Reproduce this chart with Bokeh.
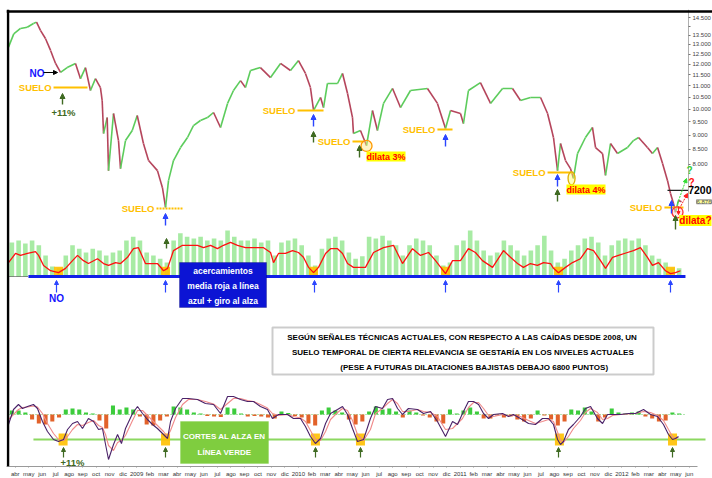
import math
from bokeh.plotting import figure
from bokeh.models import (Range1d, LinearScale, FixedTicker, Span, Label, Arrow,
                          NormalHead, BoxAnnotation, ColumnDataSource)
from bokeh.embed import file_html
from bokeh.resources import INLINE

# ------------------------------------------------------------------ data
months = ["abr", "may", "jun", "jul", "ago", "sep", "oct", "nov", "dic",
          "2009", "feb", "mar", "abr", "may", "jun", "jul", "ago", "sep", "oct", "nov", "dic",
          "2010", "feb", "mar", "abr", "may", "jun", "jul", "ago", "sep", "oct", "nov", "dic",
          "2011", "feb", "mar", "abr", "may", "jun", "jul", "ago", "sep", "oct", "nov", "dic",
          "2012", "feb", "mar", "abr", "may", "jun"]

# time in months since 1 Apr 2008
price_t = [0.0, 0.39, 0.89, 1.39, 1.85, 2.08, 2.37, 2.74, 3.12, 3.49,
           3.86, 4.35, 4.97, 5.34, 5.71, 6.08, 6.45, 6.82, 6.95, 7.05,
           7.32, 7.42, 7.79, 8.16, 8.31, 8.68, 9.18, 9.55, 10.01, 10.39,
           11.05, 11.42, 11.65, 11.87, 12.24, 12.76, 13.28, 13.72, 14.24, 14.76,
           15.21, 15.73, 16.25, 16.69, 17.21, 17.58, 17.95, 18.69, 19.44, 20.18,
           20.92, 21.51, 22.03, 22.40, 22.63, 23.15, 23.37, 23.66, 24.41, 24.78,
           25.15, 25.52, 25.59, 26.11, 26.56, 27.00, 27.37, 27.82, 28.49, 29.08,
           29.82, 31.08, 31.82, 32.42, 32.79, 33.53, 33.75, 34.12, 35.01, 35.76,
           36.65, 37.39, 37.98, 38.72, 39.47, 39.99, 40.43, 40.73, 40.95, 41.32,
           41.69, 41.91, 42.21, 42.80, 43.32, 43.55, 44.07, 44.29, 44.66, 45.18,
           45.92, 46.36, 46.74, 47.40, 47.77, 48.15, 48.52, 48.89, 49.11, 49.33,
           49.48, 49.70, 49.93]
price = [12860, 13570, 13870, 13940, 14150, 14230, 13760, 13320, 12690, 12040,
         11610, 11840, 12040, 11320, 11840, 10790, 11320, 10920, 10360, 9065,
         9670, 7800, 9830, 8810, 7865, 8810, 9175, 9750, 8705, 8125,
         7800, 7280, 6720, 7490, 8125, 8565, 8920, 9360, 9555, 9670,
         9870, 9290, 10240, 10790, 11230, 10920, 11700, 11840, 11370, 12040,
         11700, 12180, 11560, 10920, 9950, 10490, 10070, 11100, 11100, 11560,
         10660, 9670, 9065, 9175, 8635, 9950, 9175, 10240, 10880, 10070,
         10790, 10880, 10240, 9250, 9950, 9830, 9440, 10790, 11140, 10240,
         10880, 10880, 10360, 10490, 10490, 9830, 8920, 7800, 8705, 8125,
         7865, 7560, 8360, 8920, 9290, 8565, 8360, 7650, 8705, 8360,
         8565, 8810, 8920, 8565, 8360, 8565, 8030, 7490, 7110, 6830,
         6590, 6910, 6876]

price_ticks = [8000, 8500, 9000, 9500, 10000, 10500, 11000, 11500, 12000,
               12500, 13000, 13500, 14000, 14500]
price_tick_labels = ["8.000", "8.500", "9.000", "9.500", "10.000", "10.500", "11.000",
                     "11.500", "12.000", "12.500", "13.000", "13.500", "", "14.500"]

# support levels ("SUELO")
suelo_t0 = [3.34, 10.98, 21.44, 25.52, 31.82, 39.99, 48.66]
suelo_t1 = [5.86, 12.98, 23.37, 26.34, 32.94, 41.84, 50.07]
suelo_level = [10920, 6690, 9950, 8780, 9210, 7740, 6720]
target_level = 7200
last_price = 6876

# panel 2: histogram (half-month) + red average, blue reference line at 0
bar_t = [0.25 + 0.5 * i for i in range(100)]
bar_v = [71, 75, 69, 75, 65, 44, 21, 17, 44, 65,
         58, 50, 58, 54, 44, 50, 54, 75, 83, 75,
         50, 44, 37, 29, 75, 90, 83, 79, 83, 75,
         79, 75, 96, 83, 75, 75, 79, 71, 75, 44,
         71, 75, 79, 65, 44, 23, 58, 79, 83, 75,
         50, 37, 42, 83, 79, 85, 75, 65, 44, 65,
         79, 75, 65, 44, 23, 29, 65, 75, 96, 75,
         54, 44, 50, 75, 65, 54, 44, 54, 65, 85,
         54, 29, 37, 54, 65, 79, 83, 71, 44, 65,
         75, 79, 75, 79, 65, 44, 37, 29, 17, 17]
red_t = [0.0, 0.52, 0.89, 1.41, 2.0, 2.23, 2.6, 3.12, 3.71, 4.23,
         4.75, 5.12, 5.56, 5.93, 6.6, 7.05, 7.42, 7.94, 8.31, 8.83,
         9.27, 9.64, 10.16, 10.68, 11.05, 11.5, 11.8, 12.24, 12.91, 13.35,
         14.02, 14.47, 14.99, 15.5, 15.95, 16.47, 16.99, 17.58, 18.18, 18.92,
         19.44, 19.66, 20.03, 20.55, 21.07, 21.51, 21.88, 22.26, 22.63, 23.0,
         23.52, 23.89, 24.41, 24.78, 25.15, 25.59, 26.48, 27.08, 27.82, 28.56,
         29.23, 29.97, 30.56, 31.16, 31.68, 32.42, 32.94, 33.53, 34.12, 34.64,
         35.16, 35.91, 36.72, 37.24, 37.76, 38.2, 38.72, 39.24, 39.69, 40.21,
         40.43, 40.8, 41.32, 41.84, 42.43, 42.95, 43.4, 43.92, 44.29, 44.81,
         45.25, 45.92, 46.36, 46.88, 47.4, 47.77, 48.22, 48.74, 49.11, 49.48, 49.85]
red_v = [29, 48, 44, 48, 52, 44, 23, 12, 8, 17,
         33, 44, 33, 27, 37, 27, 23, 29, 27, 40,
         58, 60, 27, 27, 27, 12, 17, 54, 65, 65,
         65, 60, 65, 58, 65, 71, 65, 60, 60, 60,
         50, 29, 48, 48, 54, 50, 40, 19, 8, 19,
         48, 58, 58, 48, 27, 19, 19, 50, 60, 65,
         27, 58, 44, 50, 33, 6, 33, 33, 58, 50,
         33, 19, 54, 40, 27, 19, 27, 23, 29, 27,
         17, 8, 19, 29, 37, 58, 54, 33, 17, 40,
         44, 50, 54, 60, 40, 23, 29, 12, 6, 8, 12]
signal2_t = [3.71, 11.65, 22.63, 32.42, 40.80, 49.11]

# panel 3: oscillator (purple), signal (pink), histogram, green line at -50
osc_t = [0.0, 0.37, 0.74, 1.04, 1.41, 1.85, 2.15, 2.52, 2.89, 3.34,
         3.71, 4.08, 4.38, 4.75, 5.12, 5.49, 5.93, 6.31, 6.68, 6.97,
         7.2, 7.42, 7.79, 8.09, 8.38, 8.68, 9.2, 9.57, 9.94, 10.31,
         10.68, 11.05, 11.5, 11.8, 12.02, 12.39, 12.91, 13.35, 14.02, 14.61,
         15.21, 15.73, 16.25, 16.69, 17.21, 17.73, 18.18, 18.69, 19.21, 19.58,
         20.03, 20.7, 21.14, 21.66, 22.03, 22.4, 22.77, 23.15, 23.52, 23.89,
         24.41, 24.78, 25.15, 25.52, 25.89, 26.34, 26.85, 27.23, 27.74, 28.12,
         28.49, 28.86, 29.23, 29.67, 30.34, 30.79, 31.31, 31.82, 32.42, 32.94,
         33.31, 33.68, 34.12, 34.5, 34.87, 35.24, 35.61, 35.98, 36.65, 37.09,
         37.46, 37.98, 38.58, 39.09, 39.61, 40.06, 40.43, 40.73, 40.95, 41.17,
         41.54, 41.91, 42.43, 42.8, 43.18, 43.69, 44.07, 44.44, 44.81, 45.4,
         45.99, 46.51, 47.11, 47.63, 48.15, 48.59, 48.96, 49.26, 49.48, 49.7]
purple_v = [-20, 10, 20, 12, 16, 20, 12, -14, -34, -50,
            -54, -50, -30, -18, -14, -28, -8, -14, -30, -28,
            -60, -90, -60, -40, -58, -28, 2, 16, 2, -10,
            -20, -28, -40, -48, -14, 12, 32, 32, 30, 22,
            20, 2, 36, 36, 30, 26, 26, 16, 10, -8,
            0, 0, -8, -8, -24, -44, -58, -48, -18, 2,
            10, 16, 0, -28, -54, -50, -8, 16, 12, 30,
            32, 12, 0, 12, 10, 2, 6, -14, -44, -14,
            -20, 2, 26, 26, 20, 2, -8, 0, 2, -4,
            0, -8, -18, -20, -8, -8, -20, -50, -60, -54,
            -30, -20, -4, 12, 16, -8, -18, 0, 0, 0,
            2, 2, 10, 0, -4, -20, -40, -50, -48, -44]
pink_v = [-10, 0, 10, 14, 15, 17, 15, 2, -18, -38,
          -50, -52, -44, -30, -20, -22, -16, -12, -22, -26,
          -40, -62, -72, -56, -52, -42, -12, 8, 8, -2,
          -12, -22, -34, -44, -32, -6, 20, 30, 30, 26,
          21, 10, 22, 32, 32, 28, 26, 20, 13, 2,
          -2, 0, -4, -7, -14, -32, -50, -52, -34, -10,
          4, 12, 8, -12, -40, -52, -30, 2, 12, 22,
          30, 22, 6, 6, 10, 6, 4, -4, -30, -28,
          -18, -8, 14, 24, 24, 12, -2, -4, 0, -2,
          -2, -4, -12, -18, -14, -10, -14, -35, -52, -56,
          -44, -28, -12, 4, 12, 4, -10, -8, -2, 0,
          1, 2, 6, 4, -2, -12, -30, -44, -48, -46]
hist_v = [8, 8, 4, -10, -18, -20, -14, -6, 10, 12,
          10, 4, 2, -12, -28, 18, 10, 14, 10, -4,
          -20, -22, -12, -4, 16, 14, 10, 4, 2, -3,
          -4, -5, 14, 12, 2, -4, -3, -4, -6, -8,
          6, 3, -3, -6, -18, -22, 8, 14, 8, 4,
          -10, -20, -14, 6, 16, 10, 12, 6, -6, 8,
          4, -2, -6, -14, -18, 10, 2, 8, 14, 6,
          -8, -8, -2, -6, -4, -10, -14, -8, 8, -2,
          -10, -22, -14, 10, 8, 14, 6, -14, -6, 12,
          4, 2, 4, 6, -4, -8, -14, -12, 4, 2]
green_level = -50
signal3_t = [4.05, 11.65, 22.77, 26.11, 40.87, 49.26]

# dilatation points below support
dilata_t = [26.56, 41.77, 49.63]
dilata_price = [8620, 7560, 6590]

# ------------------------------------------------------------------ layout
L, T, B = 6, 9, 466          # page x of frame left, page y of frame top / bottom
FW, FH = 712 - L, B - T
FONT = "Liberation Sans"


def price_at(y):   # reference page-y -> price (log scale)
    return 14500 * math.exp((17 - y) / 247)


def tx(x):         # reference page-x -> months
    return (x - 8) / 13.48


X_END = tx(712)

p = figure(frame_width=FW, frame_height=FH, x_range=Range1d(tx(L), X_END),
           y_range=Range1d(price_at(B), price_at(T)), y_axis_type="log",
           y_axis_location="right", output_backend="svg", toolbar_location=None,
           min_border_left=L, min_border_right=0, min_border_top=T, min_border_bottom=0,
           background_fill_color="white", border_fill_color="white")
p.extra_y_ranges = {"ind": Range1d((276 - B) * 100 / 48, (276 - T) * 100 / 48),
                    "osc": Range1d(2 * (414 - B), 2 * (414 - T)),
                    "px": Range1d(B, T)}
p.extra_y_scales = {"ind": LinearScale(), "osc": LinearScale(), "px": LinearScale()}
p.grid.visible = False
p.outline_line_color = None

# right price axis (drawn inside the frame so its labels stay on the page)
ya = p.yaxis[0]
ya.fixed_location = tx(688)
ya.ticker = FixedTicker(ticks=price_ticks)
ya.major_label_overrides = dict(zip(price_ticks, price_tick_labels))
ya.major_label_text_font_size = "6px"
ya.major_label_text_font = FONT
ya.major_label_text_color = "#444444"
ya.major_label_standoff = 2
ya.major_tick_out = 2
ya.major_tick_in = 0
ya.minor_tick_out = 0
ya.minor_tick_in = 0
ya.axis_line_color = "#b0b0b0"
ya.major_tick_line_color = "#777777"
ya.bounds = (6600, price_at(T))

# month axis
mt = [m + 0.5 for m in range(len(months))]
xa = p.xaxis[0]
xa.ticker = FixedTicker(ticks=mt)
xa.major_label_overrides = dict(zip(mt, months))
xa.major_label_text_font_size = "6px"
xa.major_label_text_font = FONT
xa.major_label_text_color = "#333333"
xa.major_label_standoff = 3
xa.major_tick_out = 1
xa.major_tick_in = 0
xa.minor_tick_out = 0
xa.minor_tick_in = 0
xa.axis_line_color = "#9a9a9a"
xa.major_tick_line_color = "#9a9a9a"
xa.bounds = (tx(L), tx(697))

# frame borders (top / left), drawn just inside the frame
p.add_layout(Span(location=tx(7.5), dimension="height", line_color="black", line_width=2.5))
p.add_layout(Span(location=11, dimension="width", y_range_name="px",
                  line_color="black", line_width=2.5))

# ---------------- price panel
seg = ColumnDataSource(dict(x0=price_t[:-1], y0=price[:-1], x1=price_t[1:], y1=price[1:],
                            c=["#5ccc5c" if b >= a else "#b5455c"
                               for a, b in zip(price[:-1], price[1:])]))
p.segment("x0", "y0", "x1", "y1", source=seg, line_color="c", line_width=1.6)

p.segment(x0=suelo_t0, y0=suelo_level, x1=suelo_t1, y1=suelo_level,
          line_color="#ffc000", line_width=2,
          line_dash=["solid", "2 1", "solid", "solid", "solid", "solid", "solid"])
p.segment(x0=[tx(667)], y0=[target_level], x1=[tx(688)], y1=[target_level],
          line_color="#222222", line_width=1.2)
p.ellipse(x=dilata_t, y=dilata_price, width=[11, 7, 11], height=[11, 13, 11],
          width_units="screen", height_units="screen",
          fill_color=["#ffe680", "#ffff66", "#ffcccc"], fill_alpha=0.45,
          line_color=["#ff9900", "#e0b000", "#ff3333"], line_width=1.3)

# ---------------- panel 2
p.vbar(x=bar_t, top=bar_v, bottom=0, width=0.34, y_range_name="ind",
       fill_color="#9fe99a", line_color=None, fill_alpha=0.9)
p.scatter(x=signal2_t, y=[11] * len(signal2_t), marker="square", size=9,
          y_range_name="ind", fill_color="#ffc000", line_color=None, fill_alpha=0.9)
p.line(red_t, red_v, y_range_name="ind", line_color="#ff1010", line_width=1.3)
p.segment(x0=[0], y0=[0], x1=[1.48], y1=[0], y_range_name="ind",
          line_color="#222222", line_width=1, line_dash="1 1")
p.segment(x0=[1.48], y0=[0], x1=[50.22], y1=[0], y_range_name="ind",
          line_color="#1020e8", line_width=3)

# ---------------- panel 3
p.segment(x0=[0], y0=[0], x1=[50.2], y1=[0], y_range_name="osc",
          line_color="#66cc66", line_width=1, line_dash="1 2")
p.vbar(x=bar_t, top=hist_v, bottom=0, width=0.3, y_range_name="osc",
       fill_color=["#3ccc3c" if v >= 0 else "#e2622a" for v in hist_v], line_color=None)
p.segment(x0=[1.85], y0=[green_level], x1=[tx(705)], y1=[green_level], y_range_name="osc",
          line_color="#8cd860", line_width=2)
p.rect(x=signal3_t, y=[green_level] * len(signal3_t), width=9, height=12,
       width_units="screen", height_units="screen", y_range_name="osc",
       fill_color="#ffc000", line_color=None, fill_alpha=0.9)
p.line(osc_t, pink_v, y_range_name="osc", line_color="#f08a8a", line_width=1.1)
p.line(osc_t, purple_v, y_range_name="osc", line_color="#4a2268", line_width=1.1)


# ---------------- annotations
def box(l, r, t, b, fill, line, lw=1):
    p.add_layout(BoxAnnotation(left=tx(l), right=tx(r), top=t, bottom=b, y_range_name="px",
                               fill_color=fill, fill_alpha=1, line_color=line, line_width=lw))


def text(s, x, y, color, size, bg=None, align="left", style="bold"):
    kw = {}
    if bg:
        kw.update(background_fill_color=bg, background_fill_alpha=1.0)
    p.add_layout(Label(x=x, y=y, y_range_name="px", text=s, text_color=color,
                       text_font=FONT, text_font_size=f"{size}px", text_font_style=style,
                       text_align=align, text_baseline="middle", **kw))


def arrow(x0, y0, x1, y1, color, width=1.4, size=5, dash="solid"):
    p.add_layout(Arrow(end=NormalHead(size=size, fill_color=color, line_color=color),
                       x_start=tx(x0), y_start=y0, x_end=tx(x1), y_end=y1,
                       y_range_name="px", line_color=color, line_width=width,
                       line_dash=dash))


BLUE = "#2b45ff"
DKGREEN = "#3f6a22"
GOLD = "#ffc000"

# SUELO labels
for t0, lv in zip(suelo_t0, suelo_level):
    p.add_layout(Label(x=t0, y=lv, text="SUELO", text_color=GOLD, text_font=FONT,
                       text_font_size="9.5px", text_font_style="bold", text_align="right",
                       text_baseline="middle", x_offset=-2))

text("NO", tx(29), 73, "#1414ff", 10)
arrow(43, 72, 57, 72, "black", width=1.2, size=4)
arrow(62, 104, 62, 93, DKGREEN)
text("+11%", tx(63), 112, DKGREEN, 9.5, align="center")
arrow(165, 225, 165, 213, BLUE)
arrow(166, 248, 166, 238, DKGREEN)
arrow(313, 126, 313, 114, BLUE)
arrow(313, 142, 313, 131, DKGREEN)
arrow(359, 157, 359, 145, DKGREEN)
text("dilata 3%", tx(366), 156, "#ff0000", 9, bg="#ffff00")
arrow(445, 146, 445, 134, BLUE)
arrow(557, 186, 557, 174, BLUE)
arrow(557, 201, 557, 189, DKGREEN)
text("dilata 4%", tx(566), 189, "#ff0000", 9, bg="#ffff00")
arrow(671, 213, 671, 200, BLUE)
arrow(675, 229, 675, 215, DKGREEN)
arrow(678, 206, 678, 214, "#ff2020", width=1, size=3)
text("dilata?", tx(711), 220, "#ff0000", 10, bg="#ffff00", align="right")
arrow(677, 203, 686, 178, "#33dd33", width=1, size=4, dash="2 1")
arrow(679, 208, 687, 193, "#ff2020", width=1, size=4, dash="2 1")
text("?", tx(686), 170, "#33cc33", 10)
text("?", tx(688), 182, "#ff1010", 10)
p.add_layout(Label(x=tx(711), y=target_level, text="7200", text_color="black",
                   text_font=FONT, text_font_size="10.5px", text_font_style="bold",
                   text_align="right", text_baseline="middle"))
p.add_layout(Label(x=tx(711), y=last_price, text="6.876", text_color="#555555",
                   text_font=FONT, text_font_size="6px", text_align="right",
                   text_baseline="middle", background_fill_color="#ffff99",
                   border_line_color="#999999"))

# panel 2 notes
for xs in [56, 165, 314, 445, 558, 670]:
    arrow(xs, 292, xs, 280, BLUE, width=1.2, size=4)
text("NO", tx(56), 298, "#1414ff", 10, align="center")
box(179, 266, 262, 307, "#0c14d4", "#000066")
text("acercamientos", tx(222.5), 270, "white", 8.5, align="center")
text("media roja a línea", tx(222.5), 285, "white", 8.5, align="center")
text("azul + giro al alza", tx(222.5), 300, "white", 8.5, align="center")

# middle note
box(272, 653, 327, 374, "white", "#555555", lw=2)
text("SEGÚN SEÑALES TÉCNICAS ACTUALES, CON RESPECTO A LAS CAÍDAS DESDE 2008, UN",
     tx(462), 337, "black", 8, align="center")
text("SUELO TEMPORAL DE CIERTA RELEVANCIA SE GESTARÍA EN LOS NIVELES ACTUALES",
     tx(463), 352, "black", 8, align="center")
text("(PESE A FUTURAS DILATACIONES BAJISTAS DEBAJO 6800 PUNTOS)",
     tx(474), 367, "black", 8, align="center")

# panel 3 notes
for xs in [63, 165, 315, 360, 558, 672]:
    arrow(xs, 457, xs, 447, DKGREEN, width=1.2, size=4)
text("+11%", tx(72), 462, DKGREEN, 9.5, align="center")
box(180, 268, 421, 463, "#7fcd3f", "#7fcd3f")
text("CORTES AL ALZA EN", tx(224), 436, "white", 8, align="center")
text("LÍNEA VERDE", tx(224), 452, "white", 8, align="center")

open("out.html", "w").write(file_html(p, INLINE))
